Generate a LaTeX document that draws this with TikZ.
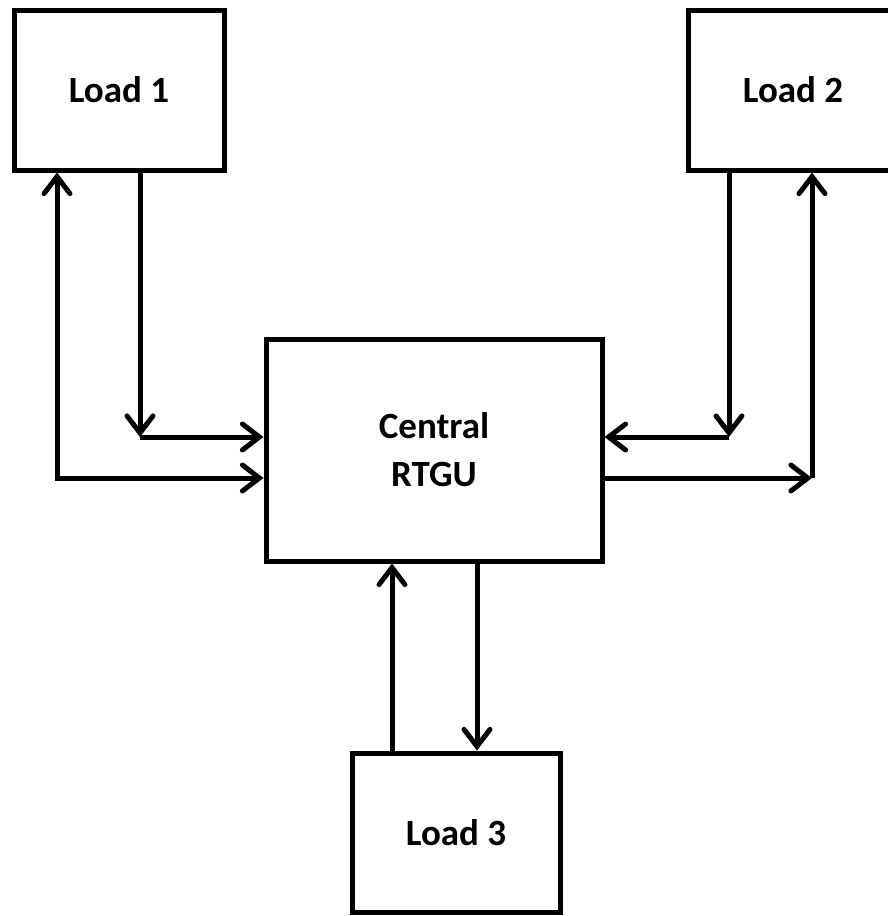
\documentclass[tikz,border=0pt]{standalone}
\usepackage{fontspec}
\setmainfont{Carlito}
\usetikzlibrary{arrows.meta}
\begin{document}
\begin{tikzpicture}[x=1pt,y=1pt]
\tikzstyle{every node}+=[inner sep=0pt]
\tikzstyle{unit}=[draw=black, line width=5pt, rectangle, align=center, font=\bfseries\fontsize{37}{48}\selectfont]
\tikzstyle{flow}=[black, line width=5pt, -{Straight Barb[length=17pt,width=26pt,line cap=round]}]
\tikzstyle{twoway}=[black, line width=5pt, {Straight Barb[length=17pt,width=26pt,line cap=round]}-{Straight Barb[length=17pt,width=26pt,line cap=round]}]
\clip (0,0) rectangle (888,-916);
\node [unit, minimum width=210pt, minimum height=160pt] (load1) at (119,-90) {Load 1};
\node [unit, minimum width=210pt, minimum height=160pt] (load2) at (793,-90) {Load 2};
\node [unit, minimum width=336pt, minimum height=222pt] (rtgu) at (434,-450) {Central\\RTGU};
\node [unit, minimum width=208pt, minimum height=159pt] (load3) at (456,-832.5) {Load 3};
\coordinate (up1) at (57,-478);
\coordinate (down1) at (140,-437);
\coordinate (down2) at (729,-437);
\coordinate (up2) at (812,-478);
\coordinate (up3) at (392,-660);
\coordinate (down3) at (477,-660);
\draw [twoway] (up1 |- load1.south) -- (up1) -- (up1 -| rtgu.west);
\draw [flow] (down1 |- load1.south) -- (down1);
\draw [flow] (down1) -- (down1 -| rtgu.west);
\draw [flow] (down2 |- load2.south) -- (down2);
\draw [flow] (down2) -- (down2 -| rtgu.east);
\draw [flow] (up2 -| rtgu.east) -- (up2);
\draw [flow] (up2) -- (up2 |- load2.south);
\draw [flow] (up3 |- load3.north) -- (up3 |- rtgu.south);
\draw [flow] (down3 |- rtgu.south) -- (down3 |- load3.north);
\end{tikzpicture}
\end{document}
